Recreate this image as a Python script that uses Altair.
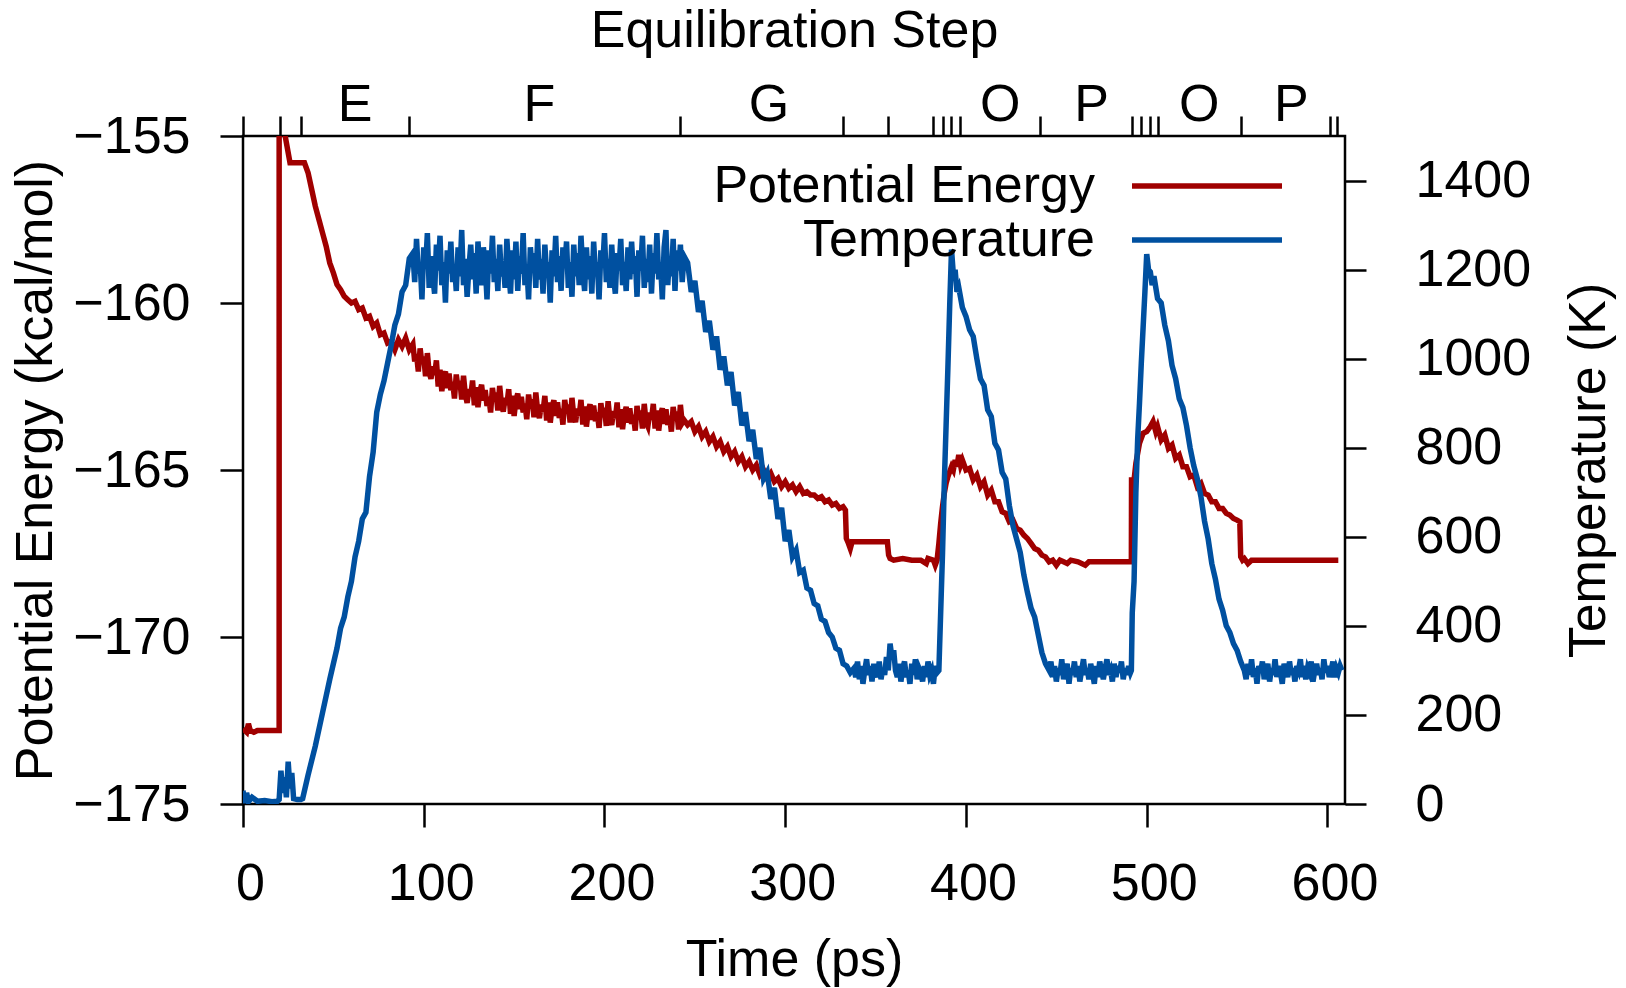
import altair as alt
import pandas as pd

FONT = "Liberation Sans"
W, H = 1102, 668

# ---------------- Potential energy (kcal/mol) ----------------
eA_t = [0, 2, 3, 4, 6, 8, 12, 16, 20, 20, 22.5, 23, 26, 30, 34]
eA_v = [-172.75, -172.85, -172.6, -172.8, -172.85, -172.8, -172.8, -172.8, -172.8,
        -150, -150, -154.9, -155.8, -155.8, -155.8]

eB_t = [36, 38, 40, 42, 44, 46, 48, 50, 52, 54, 56, 58, 60, 62, 64, 66, 68, 70, 72, 74,
        76, 78, 80, 82, 84, 86, 88, 90, 92]
eB_v = [-156.1, -156.6, -157.1, -157.5, -157.9, -158.3, -158.8, -159.1, -159.45, -159.6,
        -159.8, -159.9, -160.0, -159.95, -160.2, -160.15, -160.45, -160.4, -160.7, -160.6,
        -160.95, -160.9, -161.2, -161.15, -161.4, -161.1, -161.3, -161.05, -161.4]

# plateau (step F), 1 ps sampling
plateau_t = [94, 95, 96, 97, 98, 99, 100, 101, 102, 103,
             104, 105, 106, 107, 108, 109, 110, 111, 112, 113,
             114, 115, 116, 117, 118, 119, 120, 121, 122, 123,
             124, 125, 126, 127, 128, 129, 130, 131, 132, 133,
             134, 135, 136, 137, 138, 139, 140, 141, 142, 143,
             144, 145, 146, 147, 148, 149, 150, 151, 152, 153,
             154, 155, 156, 157, 158, 159, 160, 161, 162, 163,
             164, 165, 166, 167, 168, 169, 170, 171, 172, 173,
             174, 175, 176, 177, 178, 179, 180, 181, 182, 183,
             184, 185, 186, 187, 188, 189, 190, 191, 192, 193,
             194, 195, 196, 197, 198, 199, 200, 201, 202, 203,
             204, 205, 206, 207, 208, 209, 210, 211, 212, 213,
             214, 215, 216, 217, 218, 219, 220, 221, 222, 223,
             224, 225, 226, 227, 228, 229, 230, 231, 232, 233,
             234, 235, 236, 237, 238, 239, 240, 241, 242, 243,
             244]
eC_v = [-161.23, -161.75, -161.53, -162.05, -161.36, -161.82, -161.6, -162.19, -161.5, -162.09,
        -162.27, -161.9, -162.15, -161.72, -162.5, -162.0, -162.64, -162.21, -162.05, -162.55,
        -162.11, -162.61, -162.36, -162.86, -162.14, -162.57, -162.33, -162.89, -162.18, -162.74,
        -162.99, -162.58, -162.79, -162.32, -163.06, -162.52, -163.12, -162.65, -162.45, -162.92,
        -162.61, -163.08, -162.81, -163.28, -162.54, -162.95, -162.68, -163.22, -162.48, -163.02,
        -163.25, -162.84, -163.05, -162.58, -163.32, -162.78, -163.38, -162.91, -162.71, -163.18,
        -162.81, -163.28, -163.01, -163.48, -162.74, -163.15, -162.88, -163.42, -162.68, -163.22,
        -163.45, -163.04, -163.25, -162.78, -163.52, -162.98, -163.58, -163.11, -162.91, -163.38,
        -162.97, -163.44, -163.17, -163.64, -162.9, -163.31, -163.04, -163.58, -162.84, -163.38,
        -163.57, -163.16, -163.37, -162.9, -163.64, -163.1, -163.7, -163.23, -163.03, -163.5,
        -163.07, -163.54, -163.27, -163.74, -163.0, -163.41, -163.14, -163.68, -162.94, -163.48,
        -163.65, -163.24, -163.45, -162.98, -163.72, -163.18, -163.78, -163.31, -163.11, -163.58,
        -163.15, -163.62, -163.35, -163.82, -163.08, -163.49, -163.22, -163.76, -163.02, -163.56,
        -163.69, -163.28, -163.49, -163.02, -163.76, -163.22, -163.82, -163.35, -163.15, -163.62,
        -163.18, -163.65, -163.38, -163.85, -163.11, -163.52, -163.25, -163.79, -163.05, -163.59,
        -163.5]

eD_t = [246, 248, 250, 252, 254, 256, 258, 260, 262, 264, 266, 268, 270, 272, 274, 276, 278,
        280, 282, 284, 286, 288, 290, 292, 294, 296, 298, 300, 302, 304, 306, 308, 310, 312,
        314, 316, 318, 320, 322, 324, 326, 328, 330, 332, 333.3]
eD_v = [-163.65, -163.55, -163.85, -163.7, -164.0, -163.85, -164.15, -164.0, -164.3, -164.15,
        -164.45, -164.3, -164.6, -164.45, -164.75, -164.6, -164.9, -164.75, -165.0, -164.85,
        -165.15, -165.0, -165.25, -165.1, -165.35, -165.25, -165.5, -165.35, -165.55, -165.45,
        -165.65, -165.5, -165.7, -165.65, -165.75, -165.75, -165.85, -165.8, -165.95, -165.9,
        -166.05, -166.0, -166.15, -166.1, -166.2]

eE_t = [333.8, 335, 336, 337, 340, 345, 350, 356.5, 357.2, 358, 360, 365, 370, 375, 378, 379,
        382, 383, 384]
eE_v = [-167.05, -167.2, -167.35, -167.15, -167.15, -167.15, -167.15, -167.15, -167.55,
        -167.65, -167.7, -167.65, -167.7, -167.7, -167.8, -167.65, -167.7, -167.85, -167.7]

eF_t = [385, 386, 387, 388, 389, 390, 391, 392, 393, 394, 395, 396, 397, 398, 400, 402, 404,
        406, 408, 410, 412, 414, 416, 418, 420, 422, 424, 426, 428, 430, 432, 434, 436, 438,
        440, 442, 444]
eF_v = [-167.2, -166.6, -166.1, -165.7, -165.4, -165.2, -165.05, -164.9, -165.0, -164.7,
        -164.9, -164.55, -164.85, -164.7, -165.0, -164.95, -165.3, -165.15, -165.5, -165.35,
        -165.75, -165.6, -165.95, -165.95, -166.25, -166.3, -166.55, -166.5, -166.75, -166.8,
        -166.95, -167.05, -167.2, -167.35, -167.4, -167.55, -167.6]

eG_t = [446, 448, 450, 452, 454, 456, 458, 462, 466, 468, 475, 480, 485, 491.5]
eG_v = [-167.75, -167.7, -167.85, -167.7, -167.75, -167.8, -167.7, -167.75, -167.85, -167.75,
        -167.75, -167.75, -167.75, -167.75]

eH_t = [491.6, 493, 494, 496, 498, 500, 502, 503.5, 505, 506, 508, 510, 512, 514, 516, 518,
        520, 522, 524, 526, 528, 530, 532, 534, 536, 538, 540, 542, 544, 546, 548, 550, 551.5]
eH_v = [-165.3, -165.3, -164.8, -164.2, -163.9, -163.85, -163.7, -163.55, -163.85, -163.7,
        -164.1, -163.95, -164.35, -164.25, -164.65, -164.55, -164.9, -164.9, -165.2, -165.15,
        -165.5, -165.4, -165.7, -165.75, -165.95, -165.95, -166.15, -166.15, -166.3, -166.35,
        -166.45, -166.5, -166.55]

eI_t = [552, 553, 554, 556, 558, 562, 566, 570, 575, 580, 585, 590, 595, 600, 606]
eI_v = [-167.6, -167.7, -167.65, -167.8, -167.7, -167.7, -167.7, -167.7, -167.7, -167.7,
        -167.7, -167.7, -167.7, -167.7, -167.7]

# ---------------- Temperature (K) ----------------
tA_t = [0, 1, 2, 3, 5, 8, 12, 16, 19, 20, 21, 22, 23, 24, 25, 26, 27, 28, 30, 32]
tA_v = [30, 2, 25, 5, 15, 6, 8, 5, 6, 10, 75, 25, 60, 15, 95, 35, 70, 12, 10, 10]

tB_t = [33, 36, 40, 44, 48, 52, 54, 56, 58, 60, 62, 64, 66, 68, 70, 72, 74, 76, 78, 80, 82,
        84, 86, 88, 90, 92]
tB_v = [12, 65, 130, 205, 280, 350, 395, 420, 465, 500, 555, 590, 640, 655, 735, 790, 880,
        920, 950, 990, 1030, 1075, 1100, 1150, 1165, 1225]

tC_v = [1237, 1172, 1269, 1191, 1217, 1133, 1250, 1204, 1282, 1159,
        1230, 1185, 1146, 1256, 1198, 1276, 1165, 1217, 1126, 1243,
        1191, 1263, 1172, 1211, 1152, 1250, 1185, 1289, 1165, 1224,
        1139, 1204, 1256, 1178, 1237, 1146, 1263, 1198, 1165, 1250,
        1211, 1133, 1243, 1191, 1276, 1172, 1224, 1152, 1256, 1185,
        1217, 1159, 1269, 1198, 1146, 1243, 1178, 1263, 1152, 1230,
        1191, 1282, 1165, 1211, 1133, 1250, 1198, 1237, 1159, 1269,
        1178, 1224, 1146, 1256, 1191, 1217, 1126, 1243, 1185, 1276,
        1172, 1230, 1152, 1250, 1204, 1263, 1159, 1217, 1139, 1256,
        1185, 1237, 1165, 1276, 1198, 1152, 1250, 1178, 1230, 1146,
        1263, 1191, 1217, 1133, 1243, 1204, 1282, 1172, 1224, 1159,
        1256, 1185, 1146, 1237, 1198, 1269, 1165, 1217, 1152, 1250,
        1178, 1263, 1191, 1230, 1139, 1243, 1198, 1276, 1159, 1224,
        1172, 1256, 1146, 1237, 1191, 1282, 1178, 1217, 1133, 1250,
        1289, 1165, 1230, 1185, 1269, 1152, 1243, 1198, 1256, 1172,
        1230]

tD_t = [246, 248, 250, 252, 254, 256, 258, 260, 262, 264, 266, 268, 270, 272, 274, 276, 278,
        280, 282, 284, 286, 288, 290, 292, 294, 296, 298, 300, 302, 304, 306, 308, 310, 312,
        314, 316, 318, 320, 322, 324, 326, 328, 330, 332, 334, 336]
tD_v = [1215, 1150, 1175, 1105, 1130, 1060, 1085, 1020, 1050, 975,
        1005, 940, 970, 895, 925, 850, 880, 815, 840, 775,
        800, 730, 745, 685, 710, 640, 665, 590, 615, 555,
        570, 520, 525, 485, 480, 450, 445, 415, 410, 385,
        375, 350, 345, 315, 310, 295]

tE_t = [338, 339, 340, 341, 342, 343, 344, 345, 346, 347,
        348, 349, 350, 351, 352, 353, 354, 355, 356, 357,
        358, 359, 360, 361, 362, 363, 364, 365, 366, 367,
        368, 369, 370, 371, 372, 373, 374, 375, 376, 377,
        378, 379, 380, 381, 382, 383, 384]
tE_v = [305, 285, 320, 280, 310, 270, 300, 325, 290, 310,
        275, 315, 295, 285, 320, 280, 305, 290, 330, 300,
        360, 330, 345, 300, 285, 315, 275, 305, 320, 285,
        300, 270, 315, 290, 325, 280, 305, 295, 275, 310,
        285, 320, 290, 300, 270, 310, 295]

tF_t = [385, 386, 387, 388, 389, 390, 391, 392, 393, 394, 395, 396, 398, 400, 402, 404, 406,
        408, 410, 412, 414, 416, 418, 420, 422, 424, 426, 428, 430, 432, 434, 436, 438, 440,
        442, 444]
tF_v = [300, 430, 560, 720, 850, 980, 1120, 1245, 1190, 1200, 1150, 1160,
        1115, 1095, 1065, 1050, 1000, 955, 940, 885, 870, 810,
        795, 745, 730, 670, 625, 595, 565, 515, 475, 440, 420, 380, 340, 315]

tG_t = [446, 447, 448, 449, 450, 451, 452, 453, 454, 455,
        456, 457, 458, 459, 460, 461, 462, 463, 464, 465,
        466, 467, 468, 469, 470, 471, 472, 473, 474, 475,
        476, 477, 478, 479, 480, 481, 482, 483, 484, 485,
        486, 487, 488, 489, 490, 491]
tG_v = [300, 320, 285, 310, 275, 305, 290, 325, 280, 300,
        315, 270, 305, 290, 320, 285, 310, 275, 300, 325,
        290, 305, 280, 315, 295, 270, 310, 285, 320, 300,
        280, 305, 325, 290, 300, 275, 315, 285, 310, 295,
        320, 280, 305, 290, 310, 295]

tH_t = [491.5, 492, 493, 494, 495, 496, 497, 498, 499, 500, 501, 502, 503, 504, 506, 508,
        510, 512, 514, 516, 518, 520, 522, 524, 526, 528, 530, 532, 534, 536, 538, 540, 542,
        544, 546, 548, 550, 552]
tH_v = [300, 430, 500, 700, 820, 900, 990, 1070, 1150, 1235, 1200, 1195, 1165, 1185,
        1135, 1125, 1075, 1040, 985, 955, 910, 890, 850, 800,
        760, 730, 690, 635, 595, 540, 505, 460, 435, 400, 385, 360, 345, 320]

tI_t = [554, 555, 556, 557, 558, 559, 560, 561, 562, 563,
        564, 565, 566, 567, 568, 569, 570, 571, 572, 573,
        574, 575, 576, 577, 578, 579, 580, 581, 582, 583,
        584, 585, 586, 587, 588, 589, 590, 591, 592, 593,
        594, 595, 596, 597, 598, 599, 600, 601, 602, 603,
        604, 605, 606, 607, 608]
tI_v = [300, 280, 315, 290, 325, 285, 305, 270, 310, 295,
        320, 280, 300, 315, 275, 305, 290, 325, 285, 310,
        295, 270, 315, 300, 285, 320, 290, 305, 275, 310,
        300, 325, 285, 310, 280, 305, 295, 320, 275, 300,
        315, 290, 305, 280, 325, 295, 310, 285, 300, 320,
        285, 305, 295, 310, 300]

# ---------------- Axes / labels ----------------
series_names = ["Potential Energy", "Temperature"]
series_colors = ["#A00000", "#0050A0"]
time_ticks = [0, 100, 200, 300, 400, 500, 600]
energy_ticks = [-175, -170, -165, -160, -155]
temp_ticks = [0, 200, 400, 600, 800, 1000, 1200, 1400]
step_tick_times = [0, 20.5, 32, 92, 242, 332, 356.7, 381.9, 387.3, 391.9, 396.5, 441,
                   491.7, 497.1, 501.7, 506.4, 551.9, 601.2, 605.4]
step_labels = ["E", "F", "G", "O", "P", "O", "P"]
step_label_times = [62, 164, 291, 419, 469.5, 529, 580]

energy_time = eA_t + eB_t + plateau_t + eD_t + eE_t + eF_t + eG_t + eH_t + eI_t
energy_kcal = eA_v + eB_v + eC_v + eD_v + eE_v + eF_v + eG_v + eH_v + eI_v
temp_time = tA_t + tB_t + plateau_t + tD_t + tE_t + tF_t + tG_t + tH_t + tI_t
temp_k = tA_v + tB_v + tC_v + tD_v + tE_v + tF_v + tG_v + tH_v + tI_v

energy_df = pd.DataFrame({"time": energy_time, "value": energy_kcal})
energy_df["series"] = series_names[0]
energy_df["idx"] = range(len(energy_df))
temp_df = pd.DataFrame({"time": temp_time, "value": temp_k})
temp_df["series"] = series_names[1]
temp_df["idx"] = range(len(temp_df))
step_df = pd.DataFrame({"time": step_label_times, "label": step_labels})

x_scale = alt.Scale(domain=[0, 609.7], nice=False, zero=False)

color_enc = alt.Color(
    "series:N",
    scale=alt.Scale(domain=series_names, range=series_colors),
    legend=alt.Legend(
        title=None, orient="none", legendX=798, legendY=22, padding=0,
        symbolType="M-3,0H3", symbolSize=2500, symbolStrokeWidth=5.5, symbolOffset=138,
        labelFont=FONT, labelFontSize=52, labelColor="black", labelAlign="right",
        labelOffset={"expr": "-140"}, labelLimit=2000, rowPadding=0,
    ),
)

energy_line = alt.Chart(energy_df).mark_line(strokeWidth=5.5, clip=True).encode(
    x=alt.X("time:Q", scale=x_scale,
            axis=alt.Axis(orient="bottom", values=time_ticks, format="d", title="Time (ps)",
                          tickSize=23, labelPadding=31, labelOffset=7, labelFlush=False,
                          titlePadding=25)),
    y=alt.Y("value:Q", scale=alt.Scale(domain=[-175, -155], nice=False, zero=False),
            axis=alt.Axis(orient="left", values=energy_ticks, format="d",
                          title="Potential Energy (kcal/mol)", tickSize=23, labelPadding=30,
                          titlePadding=10, titleAngle=270, titleBaseline="bottom")),
    color=color_enc,
    order=alt.Order("idx:Q"),
)

temp_line = alt.Chart(temp_df).mark_line(strokeWidth=5.5, clip=True).encode(
    x=alt.X("time:Q", scale=x_scale,
            axis=alt.Axis(orient="top", values=step_tick_times, labels=False, tickSize=20,
                          title="Equilibration Step", titlePadding=57)),
    y=alt.Y("value:Q", scale=alt.Scale(domain=[0, 1500], nice=False, zero=False),
            axis=alt.Axis(orient="right", values=temp_ticks, format="d",
                          title="Temperature (K)", tickSize=21, labelPadding=49,
                          titlePadding=33, titleAngle=270, titleBaseline="top")),
    color=color_enc,
    order=alt.Order("idx:Q"),
)

step_text = alt.Chart(step_df).mark_text(
    font=FONT, fontSize=52, color="black", align="center", baseline="alphabetic"
).encode(
    x=alt.X("time:Q", scale=x_scale, axis=None),
    y=alt.value(-15),
    text="label:N",
)

chart = (
    alt.layer(energy_line, temp_line, step_text)
    .resolve_scale(y="independent")
    .resolve_axis(x="independent", y="independent")
    .properties(
        width=W, height=H,
        autosize=alt.AutoSizeParams(type="none"),
        padding={"left": 243, "top": 136, "right": 281, "bottom": 184},
        background="white",
    )
    .configure_view(stroke="black", strokeWidth=2.5)
    .configure_axis(
        labelFont=FONT, titleFont=FONT, labelFontSize=52, titleFontSize=52,
        labelColor="black", titleColor="black", titleFontWeight="normal",
        tickColor="black", tickWidth=2.5, domain=False, grid=False, labelOverlap=False,
    )
)

chart.save("out.html", embed_options={"renderer": "svg", "actions": False})
